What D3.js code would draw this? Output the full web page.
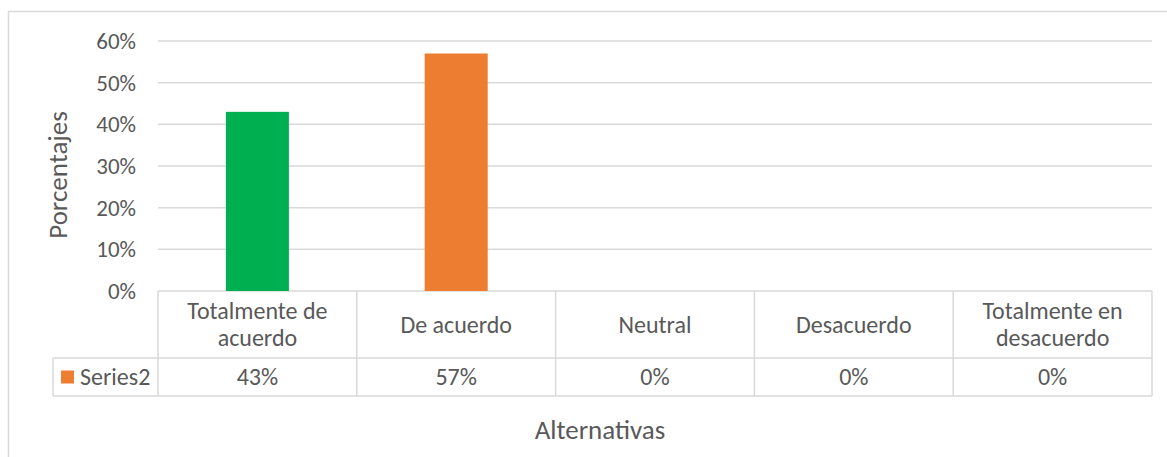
<!DOCTYPE html>
<html>
<head>
<meta charset="utf-8">
<script src="https://cdn.jsdelivr.net/npm/d3@7"></script>
<style>
  body { margin: 0; background: #fff; }
  text { font-family: Carlito, Calibri, Lato, sans-serif; fill: #595959; }
</style>
</head>
<body>
<div id="chart"></div>
<script>
// Data
const categories = ['Totalmente de acuerdo', 'De acuerdo', 'Neutral', 'Desacuerdo', 'Totalmente en desacuerdo']
const categoryLines = [['Totalmente de', 'acuerdo'], ['De acuerdo'], ['Neutral'], ['Desacuerdo'], ['Totalmente en', 'desacuerdo']]
const values = [0.43, 0.57, 0, 0, 0]
const barColors = ['#00b050', '#ed7d31', '#ed7d31', '#ed7d31', '#ed7d31']
const seriesName = 'Series2'
const yTicks = [0, 0.1, 0.2, 0.3, 0.4, 0.5, 0.6]

const width = 1167
const height = 457
const labelSize = 24
const tickSize = 23
const titleSize = 27
const gridColor = '#d9d9d9'

// Plot area
const plot = { left: 158, right: 1152, top: 41, bottom: 291 }
const headRow = 358
const dataRow = 396
const legendLeft = 53

const svg = d3.select('#chart')
  .append('svg')
  .attr('width', width)
  .attr('height', height)

// Outer chart border
svg.append('rect')
  .attr('x', 8.5)
  .attr('y', 11.5)
  .attr('width', width + 10)
  .attr('height', height + 10)
  .attr('fill', 'none')
  .attr('stroke', gridColor)
  .attr('stroke-width', 1.5)

// Scales
const xScale = d3.scaleBand()
  .domain(categories)
  .range([plot.left, plot.right])
  .paddingInner(0)
  .paddingOuter(0)

const yScale = d3.scaleLinear()
  .domain([0, 0.6])
  .range([plot.bottom, plot.top])

// Y gridlines
svg.append('g')
  .selectAll('line')
  .data(yTicks)
  .join('line')
  .attr('x1', plot.left)
  .attr('x2', plot.right)
  .attr('y1', d => yScale(d))
  .attr('y2', d => yScale(d))
  .attr('stroke', gridColor)
  .attr('stroke-width', 1.5)

// Y tick labels
svg.append('g')
  .selectAll('text')
  .data(yTicks)
  .join('text')
  .attr('x', 136)
  .attr('y', d => yScale(d))
  .attr('dy', '0.35em')
  .attr('text-anchor', 'end')
  .style('font-size', tickSize + 'px')
  .text(d3.format('.0%'))

// Bars
const barW = 63
svg.append('g')
  .selectAll('rect')
  .data(values)
  .join('rect')
  .attr('x', (d, i) => xScale(categories[i]) + xScale.bandwidth() / 2 - barW / 2)
  .attr('y', d => yScale(d))
  .attr('width', barW)
  .attr('height', d => yScale(0) - yScale(d))
  .attr('fill', (d, i) => barColors[i])

// Data table lines
const table = svg.append('g')
  .attr('stroke', gridColor)
  .attr('stroke-width', 1.5)
  .attr('fill', 'none')

const bounds = categories.map(c => xScale(c)).concat([plot.right])
table.selectAll('line.v')
  .data(bounds)
  .join('line')
  .attr('class', 'v')
  .attr('x1', d => d)
  .attr('x2', d => d)
  .attr('y1', plot.bottom)
  .attr('y2', dataRow)

table.append('line')
  .attr('x1', legendLeft).attr('x2', plot.right)
  .attr('y1', headRow).attr('y2', headRow)
table.append('line')
  .attr('x1', legendLeft).attr('x2', plot.right)
  .attr('y1', dataRow).attr('y2', dataRow)
table.append('line')
  .attr('x1', legendLeft).attr('x2', legendLeft)
  .attr('y1', headRow).attr('y2', dataRow)

// Category labels in header row
const headMid = (plot.bottom + headRow) / 2
svg.append('g')
  .selectAll('text')
  .data(categoryLines)
  .join('text')
  .attr('text-anchor', 'middle')
  .style('font-size', labelSize + 'px')
  .each(function (lines, i) {
    const cx = xScale(categories[i]) + xScale.bandwidth() / 2
    const lh = 27
    const y0 = headMid - (lines.length - 1) * lh / 2
    d3.select(this).selectAll('tspan')
      .data(lines)
      .join('tspan')
      .attr('x', cx)
      .attr('y', (d, j) => y0 + j * lh)
      .attr('dy', '0.35em')
      .text(d => d)
  })

// Values in data row
const dataMid = (headRow + dataRow) / 2
svg.append('g')
  .selectAll('text')
  .data(values)
  .join('text')
  .attr('x', (d, i) => xScale(categories[i]) + xScale.bandwidth() / 2)
  .attr('y', dataMid)
  .attr('dy', '0.35em')
  .attr('text-anchor', 'middle')
  .style('font-size', labelSize + 'px')
  .text(d3.format('.0%'))

// Legend key
svg.append('rect')
  .attr('x', 61)
  .attr('y', dataMid - 6.5)
  .attr('width', 13)
  .attr('height', 13)
  .attr('fill', '#ed7d31')
svg.append('text')
  .attr('x', 80)
  .attr('y', dataMid)
  .attr('dy', '0.35em')
  .style('font-size', labelSize + 'px')
  .text(seriesName)

// Axis titles
svg.append('text')
  .attr('transform', 'translate(58, 175) rotate(-90)')
  .attr('dy', '0.35em')
  .attr('text-anchor', 'middle')
  .style('font-size', titleSize + 'px')
  .text('Porcentajes')

svg.append('text')
  .attr('x', 600)
  .attr('y', 430)
  .attr('dy', '0.35em')
  .attr('text-anchor', 'middle')
  .style('font-size', titleSize + 'px')
  .text('Alternativas')
</script>
</body>
</html>
